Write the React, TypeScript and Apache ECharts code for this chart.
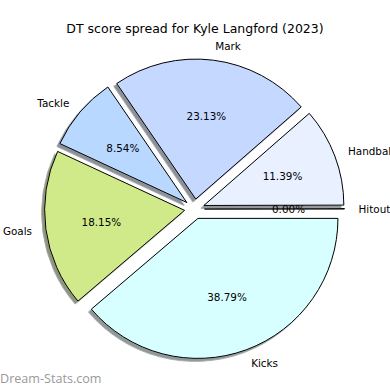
import React, { useEffect, useRef } from "react";
import * as echarts from "echarts";

const categories = ["Hitout", "Handball", "Mark", "Tackle", "Goals", "Kicks"];
const values = [0, 11.39, 23.13, 8.54, 18.15, 38.79];
const colors = ["#d8d8d8", "#e9f0ff", "#c5d8ff", "#b8d8ff", "#d0ea8a", "#d8ffff"];
const titleText = "DT score spread for Kyle Langford (2023)";
const watermark = "Dream-Stats.com";

function shade(hex: string): string {
  const n = parseInt(hex.slice(1), 16);
  const r = Math.round(((n >> 16) & 255) * 0.3);
  const g = Math.round(((n >> 8) & 255) * 0.3);
  const b = Math.round((n & 255) * 0.3);
  return `rgba(${r},${g},${b},0.58)`;
}

export default function App() {
  const ref = useRef<HTMLDivElement>(null);
  useEffect(() => {
    document.body.style.margin = "0";
    const chart = echarts.init(ref.current!, undefined, { renderer: "svg" });
    const R = 140;
    const center = [194.5, 209];
    const font = "DejaVu Sans";
    const mainData = categories.map((name, i) => ({
      name,
      value: values[i],
      selected: true,
      itemStyle: {
        color: colors[i],
        shadowColor: shade(colors[i]),
      },
    }));
    const labelData = categories.map((name, i) => ({
      name,
      value: values[i],
      selected: true,
    }));
    chart.setOption({
      animation: false,
      backgroundColor: "#ffffff",
      title: {
        text: titleText,
        left: "center",
        top: 17,
        textStyle: {
          fontFamily: font,
          fontSize: 12.5,
          fontWeight: "normal",
          color: "#000",
        },
      },
      graphic: [
        {
          type: "text",
          left: 0,
          top: 372,
          style: {
            text: watermark,
            fontFamily: "Open Sans",
            fontSize: 12.6,
            fill: "#999999",
          },
        },
      ],
      series: [
        {
          type: "pie",
          center,
          radius: [0, R],
          startAngle: 0,
          clockwise: false,
          minAngle: 0.15,
          selectedMode: "multiple",
          selectedOffset: 10,
          avoidLabelOverlap: false,
          minShowLabelAngle: 0,
          emphasis: { disabled: true },
          itemStyle: {
            borderColor: "#000",
            borderWidth: 1,
            shadowBlur: 0,
            shadowOffsetX: -2.8,
            shadowOffsetY: 2.8,
          },
          select: { itemStyle: { borderColor: "#000", borderWidth: 1 } },
          label: {
            show: true,
            position: "outside",
            formatter: "{b}",
            fontFamily: font,
            fontSize: 10.4,
            color: "#000",
            distanceToLabelLine: 0,
          },
          labelLine: { show: false, length: 14, length2: 0 },
          data: mainData,
        },
        {
          type: "pie",
          center,
          radius: [22, R],
          startAngle: 0,
          clockwise: false,
          minAngle: 0.15,
          selectedMode: "multiple",
          selectedOffset: 10,
          avoidLabelOverlap: false,
          minShowLabelAngle: 0,
          silent: true,
          emphasis: { disabled: true },
          itemStyle: { color: "rgba(0,0,0,0)", borderWidth: 0 },
          select: { itemStyle: { color: "rgba(0,0,0,0)", borderWidth: 0 } },
          label: {
            show: true,
            position: "inside",
            formatter: (p: any) => `${Number(p.percent).toFixed(2)}%`,
            fontFamily: font,
            fontSize: 10.4,
            color: "#000",
          },
          labelLine: { show: false },
          data: labelData,
        },
      ],
    });
    return () => chart.dispose();
  }, []);
  return <div ref={ref} style={{ width: 390, height: 390 }} />;
}
